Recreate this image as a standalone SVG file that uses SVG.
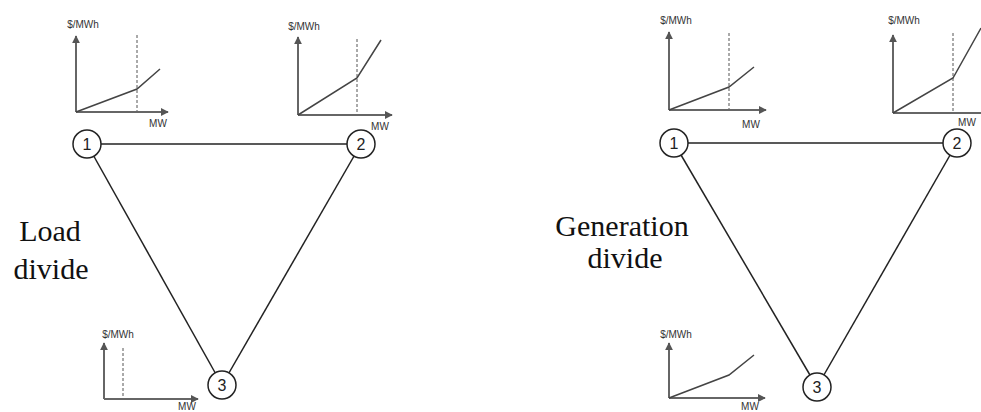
<svg xmlns="http://www.w3.org/2000/svg" width="981" height="412" viewBox="0 0 981 412">
<defs>
<marker id="arr" viewBox="0 0 10 10" refX="9" refY="5" markerWidth="4" markerHeight="4" orient="auto" markerUnits="strokeWidth">
<path d="M0,0 L10,5 L0,10 z" fill="#555"/>
</marker>
</defs>
<style>
.ax{stroke:#666;stroke-width:2;fill:none;marker-end:url(#arr)}
.cv{stroke:#444;stroke-width:1.5;fill:none}
.ds{stroke:#555;stroke-width:1;stroke-dasharray:3,2;fill:none}
.sm{font-family:"Liberation Sans",Arial,sans-serif;font-size:10px;fill:#333;text-anchor:middle}
.edge{stroke:#222;stroke-width:1.5;fill:none}
.nd{fill:#fff;stroke:#222;stroke-width:1.5}
.nl{font-family:"Liberation Sans",Arial,sans-serif;font-size:16px;fill:#222;text-anchor:middle}
.big{font-family:"Liberation Serif","Times New Roman",serif;font-size:30px;fill:#111;text-anchor:middle}
</style>
<rect width="981" height="412" fill="#fff"/>

<g id="connectors">
<line class="edge" x1="87" y1="144" x2="361" y2="144"/>
<line class="edge" x1="87" y1="144" x2="222" y2="385"/>
<line class="edge" x1="361" y1="144" x2="222" y2="385"/>
<line class="edge" x1="674" y1="143" x2="957" y2="143"/>
<line class="edge" x1="674" y1="143" x2="817" y2="387"/>
<line class="edge" x1="957" y1="143" x2="817" y2="387"/>
</g>

<g id="left-node1"><circle class="nd" cx="87" cy="144" r="14"/><text class="nl" x="87" y="150">1</text></g>
<g id="left-node2"><circle class="nd" cx="361" cy="144" r="14"/><text class="nl" x="361" y="150">2</text></g>
<g id="left-node3"><circle class="nd" cx="222" cy="385" r="14"/><text class="nl" x="222" y="391">3</text></g>
<g id="right-node1"><circle class="nd" cx="674" cy="143" r="14"/><text class="nl" x="674" y="149">1</text></g>
<g id="right-node2"><circle class="nd" cx="957" cy="143" r="14"/><text class="nl" x="957" y="149">2</text></g>
<g id="right-node3"><circle class="nd" cx="817" cy="387" r="14"/><text class="nl" x="817" y="393">3</text></g>

<g id="left-chart1">
<line class="ds" x1="137" y1="35" x2="137" y2="112"/>
<line class="ax" x1="76" y1="112" x2="76" y2="36"/>
<line class="ax" x1="76" y1="112" x2="168" y2="112"/>
<polyline class="cv" points="76,112 137,89 160,69"/>
<text class="sm" x="83" y="28">$/MWh</text>
<text class="sm" x="158" y="127">MW</text>
</g>

<g id="left-chart2">
<line class="ds" x1="357" y1="39" x2="357" y2="115"/>
<line class="ax" x1="298" y1="115" x2="298" y2="37"/>
<line class="ax" x1="298" y1="115" x2="392" y2="115"/>
<polyline class="cv" points="298,115 357,78 381,40"/>
<text class="sm" x="304" y="30">$/MWh</text>
<text class="sm" x="380" y="130">MW</text>
</g>

<g id="left-chart3">
<line class="ds" x1="123" y1="348" x2="123" y2="399"/>
<line class="ax" x1="104" y1="399" x2="104" y2="343"/>
<line class="ax" x1="104" y1="399" x2="198" y2="399"/>
<text class="sm" x="118" y="338">$/MWh</text>
<text class="sm" x="187" y="410">MW</text>
</g>

<g id="right-chart1">
<line class="ds" x1="729" y1="33" x2="729" y2="110"/>
<line class="ax" x1="669" y1="110" x2="669" y2="32"/>
<line class="ax" x1="669" y1="110" x2="766" y2="110"/>
<polyline class="cv" points="669,110 729,87 754,67"/>
<text class="sm" x="676" y="24">$/MWh</text>
<text class="sm" x="751" y="128">MW</text>
</g>

<g id="right-chart2">
<line class="ds" x1="953" y1="33" x2="953" y2="113"/>
<line class="ax" x1="893" y1="113" x2="893" y2="35"/>
<line class="ax" x1="893" y1="113" x2="990" y2="113"/>
<polyline class="cv" points="893,113 953,78 981,28"/>
<text class="sm" x="904" y="24">$/MWh</text>
<text class="sm" x="967" y="126">MW</text>
</g>

<g id="right-chart3">
<line class="ax" x1="669" y1="398" x2="669" y2="343"/>
<line class="ax" x1="669" y1="398" x2="765" y2="398"/>
<polyline class="cv" points="669,398 729,375 754,355"/>
<text class="sm" x="676" y="338">$/MWh</text>
<text class="sm" x="750" y="410">MW</text>
</g>

<g id="label-load">
<text class="big" x="50" y="241">Load</text>
<text class="big" x="51" y="279">divide</text>
</g>
<g id="label-generation">
<text class="big" x="622" y="236">Generation</text>
<text class="big" x="625" y="268">divide</text>
</g>
</svg>
